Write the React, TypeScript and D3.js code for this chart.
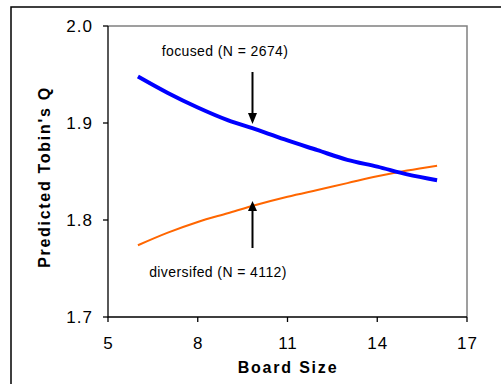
import React from "react";
import * as d3 from "d3";

const boardSize = [6, 7, 8, 9, 10, 11, 12, 13, 14, 15, 16];
const focused = [1.948, 1.931, 1.916, 1.903, 1.893, 1.882, 1.872, 1.862, 1.855, 1.847, 1.841];
const diversified = [1.774, 1.787, 1.798, 1.807, 1.816, 1.824, 1.831, 1.838, 1.845, 1.851, 1.856];
const xTicks = [5, 8, 11, 14, 17];
const yTicks = [1.7, 1.8, 1.9, 2.0];
const focusedLabel = "focused (N = 2674)";
const diversifiedLabel = "diversifed (N = 4112)";
const xTitle = "Board Size";
const yTitle = "Predicted Tobin's Q";
const arrowX = 9.83;

export default function App() {
  const W = 501, H = 384;
  const L = 108, T = 26, R = 467, B = 317;
  const x = d3.scaleLinear().domain([5, 17]).range([L, R]);
  const y = d3.scaleLinear().domain([1.7, 2.0]).range([B, T]);
  const line = (vals: number[]) =>
    d3.line<number>().x((_, i) => x(boardSize[i])).y((v) => y(v)).curve(d3.curveMonotoneX)(vals) || "";
  const font = "Arial, 'Liberation Sans', sans-serif";
  const ax = x(arrowX);
  return (
    <svg width={W} height={H} style={{ position: "absolute", left: 0, top: 0 }} fontFamily={font}>
      <rect x={0} y={0} width={W} height={H} fill="#fff" />
      <path d={`M11,${H + 5} V7 H${W + 5}`} fill="none" stroke="#000" strokeWidth={1.5} />
      <path d={`M${L},${T} H${R} V${B}`} fill="none" stroke="#808080" strokeWidth={1.5} />
      <path d={`M${L},${T} V${B} H${R}`} fill="none" stroke="#000" strokeWidth={1.3} />
      {xTicks.map((t) => (
        <g key={"x" + t}>
          <line x1={x(t)} x2={x(t)} y1={B} y2={B + 5} stroke="#000" strokeWidth={1.3} />
          <text x={x(t) + 0.5} y={349} textAnchor="middle" fontSize={17} letterSpacing={1}>{t}</text>
        </g>
      ))}
      {yTicks.map((t) => (
        <g key={"y" + t}>
          <line x1={L - 5} x2={L} y1={y(t)} y2={y(t)} stroke="#000" strokeWidth={1.3} />
          <text x={93} y={y(t) + 6} textAnchor="end" fontSize={17} letterSpacing={1}>{t.toFixed(1)}</text>
        </g>
      ))}
      <path d={line(diversified)} fill="none" stroke="#FF6600" strokeWidth={2} />
      <path d={line(focused)} fill="none" stroke="#0000FF" strokeWidth={4} />
      <line x1={ax} x2={ax} y1={72} y2={114} stroke="#000" strokeWidth={2} />
      <path d={`M${ax - 4.5},113 L${ax + 4.5},113 L${ax},124 Z`} fill="#000" />
      <line x1={ax} x2={ax} y1={248} y2={210} stroke="#000" strokeWidth={2} />
      <path d={`M${ax - 4.5},211 L${ax + 4.5},211 L${ax},201 Z`} fill="#000" />
      <text x={225} y={56} textAnchor="middle" fontSize={14} letterSpacing={0.4}>{focusedLabel}</text>
      <text x={218} y={277} textAnchor="middle" fontSize={14} letterSpacing={0.4}>{diversifiedLabel}</text>
      <text x={288} y={373} textAnchor="middle" fontSize={16} fontWeight="bold" letterSpacing={1.8}>{xTitle}</text>
      <text transform={`translate(50,177) rotate(-90)`} textAnchor="middle" fontSize={16} fontWeight="bold" letterSpacing={1.7}>{yTitle}</text>
    </svg>
  );
}
